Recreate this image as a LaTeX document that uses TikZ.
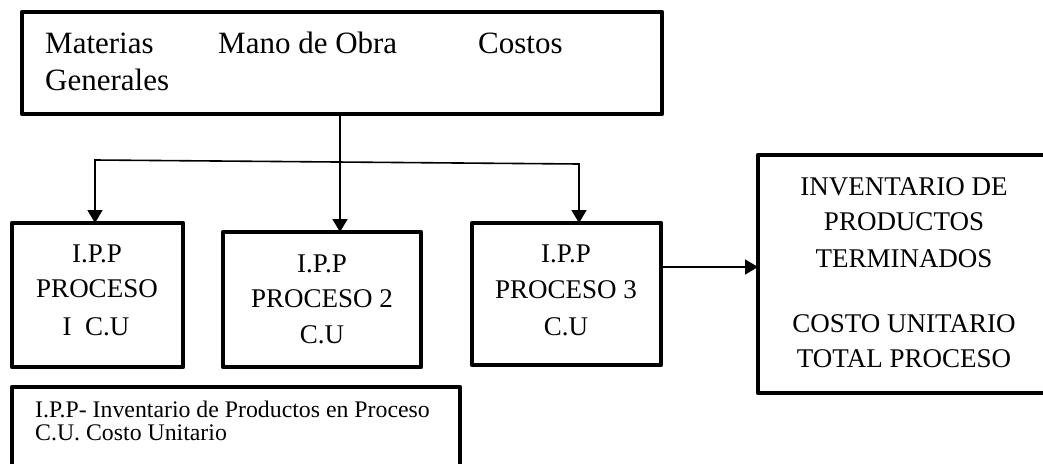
\documentclass[tikz,border=0pt]{standalone}
\usepackage{fontspec}
\setmainfont{Liberation Serif}
\usetikzlibrary{arrows.meta}
\tikzset{
  box/.style={draw, line width=4.6pt, anchor=north west, inner sep=0pt, outer sep=0pt, line join=round},
  conn/.style={line width=1.6pt},
  bigtip/.tip={Triangle[width=15pt,length=13pt]},
  bt/.style={font=\fontsize{27pt}{36pt}\selectfont, anchor=base, inner sep=0pt},
  tt/.style={font=\fontsize{31pt}{37pt}\selectfont, anchor=base west, inner sep=0pt},
  lt/.style={font=\fontsize{23.8pt}{24pt}\selectfont, anchor=base west, inner sep=0pt}
}
\begin{document}
\begin{tikzpicture}[x=1pt,y=-1pt]
\useasboundingbox (0,0) rectangle (1043,463);
\clip (0,0) rectangle (1043,463);
% boxes
\node[box, minimum width=640pt, minimum height=102pt] (top) at (22,12) {};
\node[box, minimum width=171pt, minimum height=144pt] (b1) at (12,223) {};
\node[box, minimum width=198pt, minimum height=135pt] (b2) at (223,232) {};
\node[box, minimum width=189pt, minimum height=142pt] (b3) at (472,223) {};
\node[box, minimum width=292pt, minimum height=238pt] (b4) at (758,155) {};
\node[box, minimum width=448pt, minimum height=110pt] (leg) at (12,387) {};
% top text
\node[tt] (t1) at (45,53) {Materias};
\node[tt] (t2) at (218,53) {Mano de Obra};
\node[tt] (t3) at (478,53) {Costos};
\node[tt] (t4) at (45,90) {Generales};
% box 1 text
\node[bt] (b1a) at (97,262) {I.P.P};
\node[bt] (b1b) at (97,297) {PROCESO};
\node[bt] (b1c) at (96,335) {I\ \ C.U};
% box 2 text
\node[bt] (b2a) at (322,272) {I.P.P};
\node[bt] (b2b) at (322,307) {PROCESO 2};
\node[bt] (b2c) at (322,343) {C.U};
% box 3 text
\node[bt] (b3a) at (566,262) {I.P.P};
\node[bt] (b3b) at (566,298) {PROCESO 3};
\node[bt] (b3c) at (566,335) {C.U};
% box 4 text
\node[bt] (b4a) at (904,195) {INVENTARIO DE};
\node[bt] (b4b) at (904,230) {PRODUCTOS};
\node[bt] (b4c) at (904,267) {TERMINADOS};
\node[bt] (b4d) at (904,332) {COSTO UNITARIO};
\node[bt] (b4e) at (904,367) {TOTAL PROCESO};
% legend text
\node[lt] (l1) at (35,417) {I.P.P- Inventario de Productos en Proceso};
\node[lt] (l2) at (35,440) {C.U. Costo Unitario};
% connectors
\coordinate (j) at (340,162);
\coordinate (hl) at (95,160);
\coordinate (hr) at (579,164);
\coordinate (a3) at (700,267);
\draw[conn,-bigtip] (top.south -| j) -- (b2.north -| j);
\draw[conn,bigtip-bigtip] (b1.north -| hl) -- (hl) -- (hr) -- (b3.north -| hr);
\draw[conn,-bigtip] (a3 -| b3.east) -- (a3 -| b4.west);
\end{tikzpicture}
\end{document}
